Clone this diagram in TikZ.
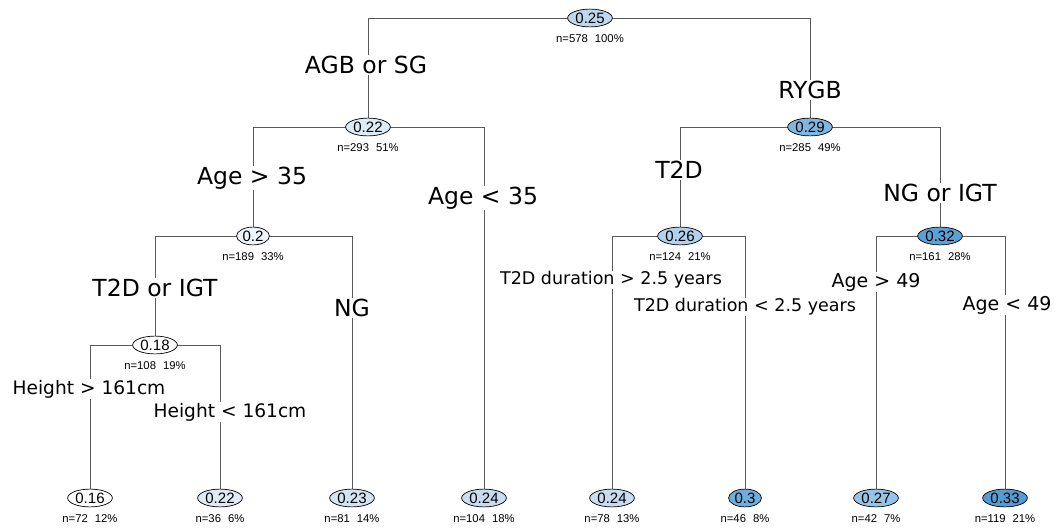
\documentclass[tikz,border=0pt]{standalone}
\usepackage{fontspec}
\setmainfont{Liberation Sans}
\newfontfamily\vfont{DejaVu Sans}
\usetikzlibrary{shapes.geometric,backgrounds,calc}
\definecolor{edgegray}{HTML}{5A5A5A}
\definecolor{c16}{HTML}{FFFFFF}
\definecolor{c18}{HTML}{FFFFFF}
\definecolor{c20}{HTML}{EEF4FB}
\definecolor{c22}{HTML}{DFEAF7}
\definecolor{c23}{HTML}{D3E3F3}
\definecolor{c24}{HTML}{C8DDF1}
\definecolor{c25}{HTML}{BCD7EE}
\definecolor{c26}{HTML}{B2D1EC}
\definecolor{c27}{HTML}{97C3E6}
\definecolor{c29}{HTML}{80B7E0}
\definecolor{c30}{HTML}{6EAEDC}
\definecolor{c32}{HTML}{5CA1D6}
\definecolor{c33}{HTML}{569BD2}
\tikzset{
  tnode/.style={ellipse, draw=black, line width=0.7pt, inner xsep=1.2pt, inner ysep=0.6pt,
    text height=10.8pt, text depth=0.6pt, font=\fontsize{15}{15}\selectfont},
  nlab/.style={inner sep=0pt, font=\fontsize{11.3}{11.3}\selectfont},
  split/.style={fill=white, inner xsep=1pt, inner ysep=1pt, font=\vfont\fontsize{23.5}{24}\selectfont},
  splitm/.style={split, font=\vfont\fontsize{19}{20}\selectfont},
  splitl/.style={split, font=\vfont\fontsize{18.6}{19}\selectfont},
  splits/.style={split, font=\vfont\fontsize{17.5}{18}\selectfont},
  edge/.style={draw=edgegray, line width=0.8pt},
}
\newcommand{\nl}[2]{n=#1\hspace{7pt}#2\%}
\begin{document}
\begin{tikzpicture}[x=1pt,y=-1pt]
\useasboundingbox (0,0) rectangle (1060,532);
% internal nodes
\node[tnode, fill=c25] (root) at (590,18) {0.25};
\node[tnode, fill=c22] (n2) at (368,127) {0.22};
\node[tnode, fill=c29] (n3) at (810,127) {0.29};
\node[tnode, fill=c20] (n4) at (253,236) {0.2};
\node[tnode, fill=c26] (n6) at (680,236) {0.26};
\node[tnode, fill=c32] (n7) at (940,236) {0.32};
\node[tnode, fill=c18] (n8) at (155,345) {0.18};
% leaves
\node[tnode, fill=c16] (l1) at (90,498) {0.16};
\node[tnode, fill=c22] (l2) at (220,498) {0.22};
\node[tnode, fill=c23] (l3) at (352,498) {0.23};
\node[tnode, fill=c24] (l4) at (484,498) {0.24};
\node[tnode, fill=c24] (l5) at (612,498) {0.24};
\node[tnode, fill=c30] (l6) at (745,498) {0.3};
\node[tnode, fill=c27] (l7) at (876,498) {0.27};
\node[tnode, fill=c33] (l8) at (1005,498) {0.33};
% n labels
\node[nlab] (rootn) at ($(root)+(0,21)$) {\nl{578}{100}};
\node[nlab] (n2n) at ($(n2)+(0,21)$) {\nl{293}{51}};
\node[nlab] (n3n) at ($(n3)+(0,21)$) {\nl{285}{49}};
\node[nlab] (n4n) at ($(n4)+(0,21)$) {\nl{189}{33}};
\node[nlab] (n6n) at ($(n6)+(0,21)$) {\nl{124}{21}};
\node[nlab] (n7n) at ($(n7)+(0,21)$) {\nl{161}{28}};
\node[nlab] (n8n) at ($(n8)+(0,21)$) {\nl{108}{19}};
\node[nlab] (l1n) at ($(l1)+(0,21)$) {\nl{72}{12}};
\node[nlab] (l2n) at ($(l2)+(0,21)$) {\nl{36}{6}};
\node[nlab] (l3n) at ($(l3)+(0,21)$) {\nl{81}{14}};
\node[nlab] (l4n) at ($(l4)+(0,21)$) {\nl{104}{18}};
\node[nlab] (l5n) at ($(l5)+(0,21)$) {\nl{78}{13}};
\node[nlab] (l6n) at ($(l6)+(0,21)$) {\nl{46}{8}};
\node[nlab] (l7n) at ($(l7)+(0,21)$) {\nl{42}{7}};
\node[nlab] (l8n) at ($(l8)+(0,21)$) {\nl{119}{21}};
% split labels
\node[split] (s2) at (366,65) {AGB or SG};
\node[split] (s3) at (810,90) {RYGB};
\node[split] (s4) at (252,178) {Age > 35};
\node[split] (s5) at (483,198) {Age < 35};
\node[split] (s6) at (679,170) {T2D};
\node[split] (s7) at (940,193) {NG or IGT};
\node[split] (s8) at (155,288) {T2D or IGT};
\node[split] (s9) at (352,308) {NG};
\node[splitl] (s10) at (89,389) {Height > 161cm};
\node[splitl] (s11) at (230,412) {Height < 161cm};
\node[splits] (s12) at (611,280) {T2D duration > 2.5 years};
\node[splits] (s13) at (745,307) {T2D duration < 2.5 years};
\node[splitm] (s14) at (876,282) {Age > 49};
\node[splitm] (s15) at (1007,305) {Age < 49};
% edges
\begin{pgfonlayer}{background}
\draw[edge] (root.center) -| (n2.center);
\draw[edge] (root.center) -| (n3.center);
\draw[edge] (n2.center) -| (n4.center);
\draw[edge] (n2.center) -| (l4.center);
\draw[edge] (n3.center) -| (n6.center);
\draw[edge] (n3.center) -| (n7.center);
\draw[edge] (n4.center) -| (n8.center);
\draw[edge] (n4.center) -| (l3.center);
\draw[edge] (n8.center) -| (l1.center);
\draw[edge] (n8.center) -| (l2.center);
\draw[edge] (n6.center) -| (l5.center);
\draw[edge] (n6.center) -| (l6.center);
\draw[edge] (n7.center) -| (l7.center);
\draw[edge] (n7.center) -| (l8.center);
\end{pgfonlayer}
\end{tikzpicture}
\end{document}
